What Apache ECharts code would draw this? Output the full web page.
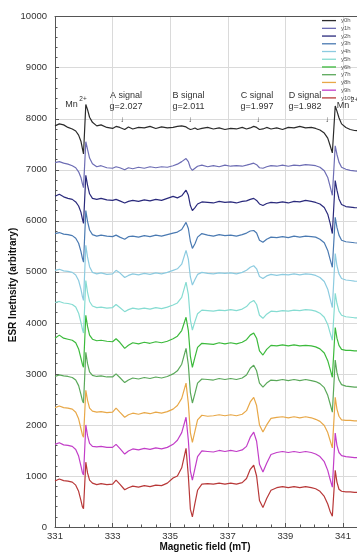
<!DOCTYPE html>
<html><head><meta charset="utf-8">
<script src="https://cdn.jsdelivr.net/npm/echarts@6/dist/echarts.min.js"></script>
<style>html,body{margin:0;padding:0;background:#fff}#c{width:357px;height:553px}</style>
</head><body><div id="c"></div>
<script>
// Magnetic field (mT) sample positions
const field = [
 331.0,331.15,331.3,331.45,331.6,331.72,331.82,331.9,331.95,331.99,
 332.07,332.13,332.2,332.3,332.45,332.6,332.8,333.0,333.12,333.25,
 333.42,333.55,333.7,333.9,334.1,334.3,334.5,334.7,334.9,335.1,
 335.25,335.4,335.55,335.63,335.7,335.77,335.86,335.95,336.1,336.3,
 336.5,336.7,336.9,337.1,337.3,337.5,337.65,337.78,337.9,338.0,
 338.1,338.22,338.35,338.5,338.7,338.9,339.1,339.3,339.5,339.7,
 339.9,340.05,340.2,340.35,340.47,340.55,340.63,340.73,340.79,340.86,
 340.95,341.1,341.25,341.4,341.6,341.8,342.0];

const seriesNames = ['y0h','y1h','y2h','y3h','y4h','y5h','y6h','y7h','y8h','y9h','y10h'];
const seriesColors = ['#2b2b2b','#6d6db4','#2a2a7c','#4a7ab2','#8ccbe0','#86dcd2','#3cba3c','#5aa85a','#e8a848','#c23ec8','#b83838'];

const y0h = [7860,7900,7880,7830,7800,7760,7680,7560,7420,7310,
 8280,8180,8030,7930,7860,7880,7830,7810,7850,7830,
 7790,7840,7800,7830,7820,7850,7810,7840,7820,7830,
 7850,7860,7840,7810,7790,7800,7820,7790,7810,7830,
 7800,7820,7790,7810,7800,7830,7800,7820,7850,7830,
 7790,7800,7830,7800,7820,7790,7830,7820,7850,7820,
 7830,7810,7780,7720,7620,7480,7330,8250,8150,8020,
 7900,7830,7790,7770,7760,7750,7740];
const y1h = [7140,7160,7130,7110,7080,7040,6960,6850,6730,6650,
 7550,7400,7230,7120,7060,7080,7040,7030,7060,7040,
 7000,7040,7020,7050,7030,7060,7040,7060,7050,7080,
 7110,7160,7220,7160,7040,6990,7030,7070,7090,7060,
 7080,7060,7090,7070,7080,7070,7090,7110,7130,7100,
 7040,7030,7060,7080,7070,7090,7070,7090,7080,7100,
 7090,7080,7050,6980,6850,6680,6500,7470,7300,7150,
 7050,7010,6990,6980,6970,6960,6950];
const y2h = [6480,6520,6470,6440,6420,6370,6290,6170,6040,5950,
 6890,6700,6530,6440,6420,6440,6410,6400,6420,6390,
 6350,6380,6400,6380,6410,6390,6420,6400,6440,6480,
 6450,6490,6600,6500,6300,6200,6260,6330,6370,6360,
 6350,6380,6360,6370,6350,6380,6390,6420,6440,6400,
 6330,6300,6340,6360,6350,6370,6350,6380,6370,6400,
 6380,6360,6330,6260,6130,5960,5750,6790,6600,6430,
 6320,6280,6270,6260,6250,6240,6230];
const y3h = [5750,5770,5740,5730,5710,5660,5560,5400,5270,5190,
 6200,5990,5820,5730,5700,5720,5700,5690,5720,5680,
 5640,5690,5700,5680,5710,5690,5720,5700,5730,5760,
 5780,5830,5970,5850,5600,5460,5550,5680,5750,5720,
 5700,5730,5710,5720,5700,5730,5760,5800,5810,5760,
 5620,5580,5640,5680,5670,5690,5670,5700,5680,5700,
 5690,5680,5640,5570,5420,5250,5090,6070,5870,5720,
 5620,5590,5580,5570,5560,5560,5550];
const y4h = [5030,5050,5020,5010,4990,4940,4830,4660,4520,4440,
 5520,5290,5100,4990,4960,4980,4950,4960,5030,4980,
 4890,4930,4960,4940,4970,4950,4980,4960,4990,5030,
 5060,5150,5420,5250,4900,4740,4850,4950,4990,4970,
 4960,4980,4970,4980,4960,4990,5030,5090,5120,5060,
 4910,4870,4920,4950,4930,4950,4940,4960,4940,4960,
 4950,4930,4890,4810,4660,4480,4300,5360,5120,4960,
 4870,4840,4830,4820,4810,4800,4800];
const y5h = [4400,4420,4390,4380,4360,4310,4190,4010,3880,3800,
 4830,4600,4420,4330,4300,4310,4290,4300,4360,4300,
 4220,4260,4290,4270,4290,4270,4300,4280,4310,4350,
 4390,4500,4800,4560,4060,3860,4030,4180,4250,4240,
 4230,4250,4240,4260,4240,4270,4320,4400,4440,4360,
 4150,4090,4170,4230,4220,4240,4230,4250,4240,4260,
 4250,4230,4190,4110,3970,3810,3660,4580,4380,4230,
 4150,4120,4110,4100,4100,4090,4090];
const y6h = [3700,3760,3700,3680,3660,3610,3490,3310,3190,3130,
 4150,3930,3760,3680,3650,3660,3640,3630,3690,3620,
 3500,3560,3610,3590,3620,3600,3630,3610,3640,3690,
 3740,3850,4110,3850,3350,3130,3330,3520,3600,3590,
 3580,3610,3590,3610,3590,3620,3670,3760,3800,3700,
 3450,3370,3480,3560,3550,3570,3550,3570,3550,3560,
 3550,3530,3490,3410,3260,3100,2935,3910,3700,3560,
 3480,3460,3460,3450,3450,3440,3440];
const y7h = [2950,2980,2960,2950,2930,2880,2770,2600,2480,2430,
 3425,3200,3040,2970,2950,2960,2940,2940,3000,2930,
 2830,2880,2920,2900,2930,2910,2940,2920,2950,3000,
 3060,3190,3500,3180,2640,2430,2620,2820,2900,2890,
 2880,2910,2890,2910,2890,2920,2980,3110,3170,3060,
 2820,2740,2820,2880,2870,2890,2870,2890,2870,2890,
 2870,2850,2810,2730,2580,2420,2250,3270,3030,2880,
 2790,2760,2750,2740,2740,2730,2730];
const y8h = [2340,2370,2340,2330,2310,2250,2120,1930,1810,1760,
 2680,2480,2330,2270,2250,2260,2240,2250,2330,2250,
 2150,2200,2230,2210,2240,2220,2250,2230,2260,2310,
 2380,2520,2820,2420,1850,1660,1880,2100,2190,2170,
 2180,2200,2180,2200,2180,2210,2280,2450,2540,2380,
 2000,1860,2000,2130,2150,2160,2140,2160,2140,2160,
 2140,2110,2070,1990,1850,1700,1550,2540,2310,2170,
 2100,2090,2090,2080,2080,2070,2070];
const y9h = [1620,1650,1610,1600,1580,1520,1390,1200,1070,1020,
 2000,1790,1640,1580,1570,1580,1560,1560,1620,1540,
 1430,1490,1530,1510,1540,1520,1550,1530,1560,1620,
 1700,1850,2150,1700,1100,920,1150,1380,1490,1480,
 1470,1500,1480,1500,1480,1510,1580,1760,1860,1680,
 1230,1080,1250,1420,1460,1480,1460,1480,1460,1480,
 1460,1430,1380,1280,1110,940,780,1840,1600,1460,
 1400,1380,1370,1360,1360,1350,1350];
const y10h = [900,940,910,900,880,820,700,520,400,360,
 1270,1060,920,860,830,850,830,840,920,840,
 730,770,800,780,810,790,820,810,860,960,
 1000,1160,1540,1000,350,200,470,720,840,850,
 840,860,840,860,840,870,950,1130,1210,1000,
 520,380,560,720,770,790,770,790,770,790,
 770,750,700,600,450,310,210,1110,880,740,
 700,690,690,680,680,670,670];

const seriesValues = [y0h,y1h,y2h,y3h,y4h,y5h,y6h,y7h,y8h,y9h,y10h];

const FONT = '"Liberation Sans", Arial, sans-serif';
const chart = echarts.init(document.getElementById('c'), null, {renderer:'canvas'});

function txt(x, y, s, size, opts) {
  opts = opts || {};
  return {type:'text', x:x, y:y, rotation: opts.rotation || 0, z:100,
    style:{text:s, fontSize:size, fontFamily:FONT, fontWeight: opts.bold ? 'bold' : 'normal',
      fill: opts.fill || '#333', align: opts.align || 'center', textAlign: opts.align || 'center',
      verticalAlign:'middle', textVerticalAlign:'middle'}};
}

const option = {
  animation:false,
  backgroundColor:'#ffffff',
  grid:{left:55, top:16.7, width:316.8, height:510.3, containLabel:false, outerBoundsMode:'none'},
  legend:{
    orient:'vertical', left:322, top:17.6, itemWidth:14, itemHeight:1.3, itemGap:1.73, padding:0,
    icon:'rect',
    textStyle:{fontSize:6, color:'#555', fontFamily:FONT},
    data:seriesNames
  },
  xAxis:[{
    type:'value', min:331, max:342, interval:2, position:'bottom',
    axisLine:{show:true, lineStyle:{color:'#555', width:1}},
    axisTick:{show:true, inside:true, length:4, lineStyle:{color:'#555'}},
    minorTick:{show:true, splitNumber:4, length:2.5, lineStyle:{color:'#555'}},
    splitLine:{show:true, lineStyle:{color:'#dadada', width:1}},
    axisLabel:{fontSize:9.5, color:'#333', margin:4, fontFamily:FONT, showMaxLabel:false, formatter: v => String(v)}
  },{
    type:'value', min:331, max:342, position:'top',
    axisLine:{show:true, lineStyle:{color:'#555', width:1}},
    axisTick:{show:false}, axisLabel:{show:false}, splitLine:{show:false}
  }],
  yAxis:{
    type:'value', min:0, max:10000, interval:1000,
    axisLine:{show:true, lineStyle:{color:'#555', width:1}},
    axisTick:{show:true, inside:true, length:4, lineStyle:{color:'#555'}},
    minorTick:{show:true, splitNumber:5, length:2.5, lineStyle:{color:'#555'}},
    splitLine:{show:true, lineStyle:{color:'#dadada', width:1}},
    axisLabel:{fontSize:9.5, color:'#333', margin:8, fontFamily:FONT, formatter: v => String(v)}
  },
  series: seriesNames.map((n,i) => ({
    name:n, type:'line', symbol:'none', showSymbol:false,
    data: field.map((x,j) => [x, seriesValues[i][j]]),
    lineStyle:{width:1.2, color:seriesColors[i]},
    itemStyle:{color:seriesColors[i]}
  })),
  graphic:[
    txt(71.5, 104.5, 'Mn', 9),
    txt(83, 99.5, '2+', 6.5),
    txt(126, 95.5, 'A signal', 9),
    txt(126, 106.3, 'g=2.027', 9),
    txt(122, 119.5, '↓', 8),
    txt(188.5, 95.5, 'B signal', 9),
    txt(188.5, 106.3, 'g=2.011', 9),
    txt(190, 119.5, '↓', 8),
    txt(257, 95.5, 'C signal', 9),
    txt(257, 106.3, 'g=1.997', 9),
    txt(258, 119.5, '↓', 8),
    txt(305, 95.5, 'D signal', 9),
    txt(305, 106.3, 'g=1.982', 9),
    txt(327, 119.5, '↓', 8),
    txt(343, 105.5, 'Mn', 9),
    txt(354.5, 100.5, '2+', 6.5),
    txt(13.5, 285, 'ESR Inetnsity (arbitrary)', 10, {bold:true, rotation:Math.PI/2, fill:'#111'}),
    txt(205, 547.5, 'Magnetic field (mT)', 10, {bold:true, fill:'#111'})
  ]
};
chart.setOption(option);
</script>
</body></html>
